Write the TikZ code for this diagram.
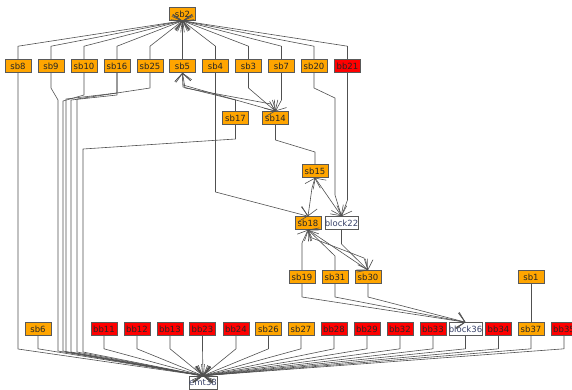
\documentclass[tikz,border=0pt]{standalone}
\usepackage{fontspec}
\setmainfont{DejaVu Sans}
\usetikzlibrary{arrows.meta}
\definecolor{sbfill}{RGB}{255,165,0}
\definecolor{bbfill}{RGB}{255,0,0}
\definecolor{edgegray}{RGB}{80,80,80}
\definecolor{blocktext}{RGB}{55,65,105}
\begin{document}
\begin{tikzpicture}[x=1pt, y=-1pt,
  every node/.style={rectangle, draw=black!65, line width=0.6pt, font=\fontsize{8.5}{9}\selectfont, text=black!85, minimum width=26pt, minimum height=13pt, inner sep=0pt},
  blk/.style={fill=white, text=blocktext},
  link/.style={draw=edgegray, line width=0.6pt, line join=round},
  tip/.style={link, -{Straight Barb[length=8pt, width=16pt]}},
  tips/.style={link, {Straight Barb[length=8pt, width=16pt]}-{Straight Barb[length=8pt, width=16pt]}},
]
\useasboundingbox (0,0) rectangle (572,389);
\node[fill=sbfill] (sb2) at (182.5,14) {sb2};
\foreach \n/\x/\c in {sb8/18/sbfill, sb9/51/sbfill, sb10/84/sbfill, sb16/117/sbfill, sb25/150/sbfill, sb5/182.5/sbfill, sb4/215.5/sbfill, sb3/248.5/sbfill, sb7/281.5/sbfill, sb20/314/sbfill, bb21/347.5/bbfill}
  \node[fill=\c] (\n) at (\x,66) {\n};
\node[fill=sbfill] (sb17) at (235.5,118) {sb17};
\node[fill=sbfill] (sb14) at (275.5,118) {sb14};
\node[fill=sbfill] (sb15) at (315,171) {sb15};
\node[fill=sbfill] (sb18) at (308,223) {sb18};
\node[blk] (block22) at (341.5,223) {block22};
\foreach \n/\x in {sb19/302, sb31/335, sb30/368, sb1/531}
  \node[fill=sbfill] (\n) at (\x,277) {\n};
\foreach \n/\x/\c in {sb6/38/sbfill, bb11/104/bbfill, bb12/137/bbfill, bb13/170/bbfill, bb23/202.5/bbfill, bb24/236/bbfill, sb26/268.5/sbfill, sb27/301/sbfill, bb28/334/bbfill, bb29/367/bbfill, bb32/400/bbfill, bb33/433/bbfill, bb34/498.5/bbfill, sb37/531/sbfill, bb35/564/bbfill}
  \node[fill=\c] (\n) at (\x,329) {\n};
\node[blk] (block36) at (465.5,329) {block36};
\node[blk] (emt38) at (203,382.5) {emt38};

\foreach \n in {sb8, sb9, sb10, sb16, sb25, sb5, sb4, sb3, sb7, sb20, bb21}
  \draw[tip] (\n.north) -- ++(0,-13) -- (sb2.south);

\draw[tip] (sb8.south) -- (18,349) -- (emt38.north);
\draw[tip] (sb9.south) -- (51,88) -- (58,100) -- (58,351) -- (emt38.north);
\draw[tip] (sb10.south) -- (84,95) -- (63,101) -- (63,351) -- (emt38.north);
\draw[tip] (sb16.south) -- (117,93) -- (66,99) -- (66,352) -- (emt38.north);
\draw[tip] (sb16.south) -- (117,95) -- (71,100) -- (71,352) -- (emt38.north);
\draw[tip] (sb25.south) -- (150,88) -- (77,99) -- (77,352) -- (emt38.north);
\draw[tip] (sb17.south) -- (235.5,139) -- (83,149) -- (83,352) -- (emt38.north);

\draw[tip] (sb17.north) -- (235.5,100) -- (183,87) -- (sb5.south);
\draw[tips] (sb5.south) -- (183,85) -- (sb14.north);
\draw[tips] (sb5.south) -- (185,88) -- (271,104) -- (sb14.north);
\draw[tip] (sb3.south) -- (248.5,88) -- (sb14.north);
\draw[tip] (sb7.south) -- (281.5,100) -- (sb14.north);
\draw[link] (sb14.south) -- (275.5,140) -- (315,152) -- (sb15.north);

\draw[tip] (sb4.south) -- (215.5,192) -- (sb18.north);
\draw[tips] (sb15.south) -- (312,188) -- (sb18.north);
\draw[tips] (sb15.south) -- (block22.north);
\draw[tip] (sb20.south) -- (314,88) -- (335,98) -- (335,195) -- (block22.north);
\draw[tip] (bb21.south) -- (347.5,200) -- (block22.north);

\draw[tip] (sb19.north) -- (302,243) -- (sb18.south);
\draw[tip] (sb31.north) -- (335,256) -- (sb18.south);
\draw[tips] (sb18.south) -- (sb30.north);
\draw[tips] (sb18.south) -- (312,238) -- (364,258) -- (sb30.north);
\draw[tip] (block22.south) -- (341.5,244) -- (sb30.north);

\draw[tip] (sb19.south) -- (302,297) -- (block36.north);
\draw[tip] (sb31.south) -- (335,297) -- (block36.north);
\draw[tip] (sb30.south) -- (368,297) -- (block36.north);
\draw[link] (sb1.south) -- (sb37.north);

\foreach \n in {sb6, bb11, bb12, bb13, bb23, bb24, sb26, sb27, bb28, bb29, bb32, bb33, block36, bb34, sb37, bb35}
  \draw[tip] (\n.south) -- ++(0,13) -- (emt38.north);
\end{tikzpicture}
\end{document}
